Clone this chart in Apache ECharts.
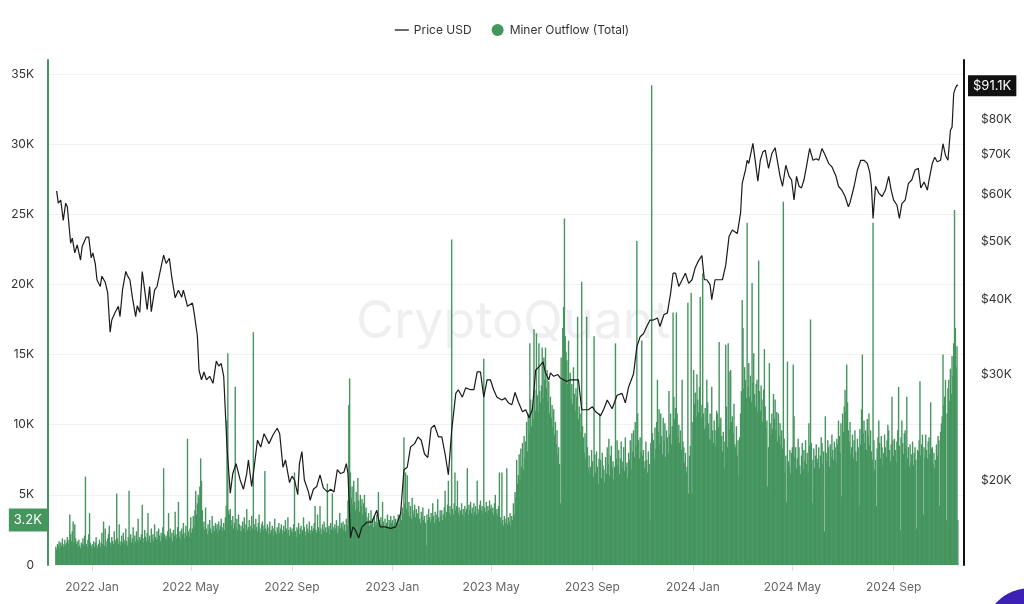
<!DOCTYPE html>
<html><head><meta charset="utf-8">
<script src="https://cdn.jsdelivr.net/npm/echarts@6/dist/echarts.min.js"></script>
<style>html,body{margin:0;padding:0;background:#fff}#c{width:1024px;height:604px}</style>
</head><body><div id="c"></div>
<script>
// ---------- data (outflow in thousand BTC, price in thousand USD) ----------
const axisStart = '2021-11-09';
const axisEnd = '2024-11-25';
const monthNames = ['Jan','Feb','Mar','Apr','May','Jun','Jul','Aug','Sep','Oct','Nov','Dec'];
const outflowTicksK = [0,5,10,15,20,25,30,35];
const priceTicksK = [20,30,40,50,60,70,80];

// daily Miner Outflow (Total), starts 2021-11-18
const outflow2021 = [
1.3,1.1,1.5,1.4,1.7,1.2,1.6,1.4,1.9,1.3,1.5,1.8,1.4,
1.6,2.0,1.5,1.8,3.6,2.2,1.7,2.4,3.1,1.6,2.9,1.9,1.5,1.7,1.3,1.8,1.4,1.2,1.6,1.5,1.9,1.4,2.1,6.3,1.5,1.3,1.8,2.2,3.7,1.6,1.4];
// starts 2022-01-01
const outflow2022 = [
1.2,1.5,1.7,1.3,1.6,2.0,1.4,1.2,1.5,1.8,1.3,1.6,2.3,1.5,3.1,1.4,2.6,1.7,1.3,1.9,2.2,2.8,1.6,1.4,2.0,1.7,1.5,2.4,1.6,1.8,5.1,
1.9,1.5,2.9,1.7,1.4,2.1,1.6,2.3,1.8,1.5,2.6,1.7,1.4,2.0,5.3,1.8,2.2,1.6,1.9,2.7,1.5,2.1,1.7,2.4,1.8,3.3,1.6,2.0,
1.8,2.2,4.3,1.9,1.6,2.5,2.0,1.7,2.3,3.7,1.8,2.1,1.6,2.6,1.9,2.2,1.7,2.9,2.0,1.8,2.4,1.9,2.6,2.1,1.7,2.3,2.0,2.7,6.9,2.2,1.9,
2.1,1.8,2.4,3.7,2.0,2.6,1.9,2.3,1.7,2.5,2.1,3.8,2.2,1.9,2.7,4.5,2.0,2.4,1.8,2.6,2.2,3.0,1.9,2.3,2.8,2.1,9.0,2.4,2.0,2.6,
3.4,2.3,2.6,3.5,2.8,3.9,5.3,3.6,4.4,5.0,4.8,5.6,7.6,6.0,3.9,2.7,3.1,2.5,4.1,2.6,2.2,2.9,2.4,3.2,2.6,2.3,3.5,2.5,2.8,2.4,3.0,
2.6,2.9,2.3,3.1,2.5,2.8,3.3,2.4,2.7,3.0,2.5,3.4,4.2,10.3,15.1,3.9,3.6,4.0,3.2,2.8,3.5,2.6,3.0,12.7,2.7,3.3,2.5,3.6,2.9,2.4,
2.8,2.4,3.1,2.6,3.4,2.3,2.9,4.0,2.5,2.7,3.2,2.4,2.8,3.5,2.6,16.6,2.9,2.5,3.3,2.7,2.4,3.0,3.6,2.6,2.3,2.9,3.1,2.5,2.8,6.7,2.6,
2.4,2.9,2.2,2.7,3.1,2.3,2.5,2.8,2.1,2.6,3.3,2.4,2.2,2.7,2.5,3.0,2.3,2.6,2.9,2.2,2.5,2.8,2.4,3.2,2.6,2.3,3.4,2.5,2.1,2.7,2.4,
2.6,2.3,2.9,6.6,2.4,2.0,2.7,2.5,3.0,2.2,2.6,2.8,2.3,2.5,3.4,2.7,2.1,2.4,2.9,2.6,2.3,3.1,2.5,2.2,2.8,2.4,2.6,3.0,4.2,2.5,
2.3,3.6,2.7,2.4,4.2,2.6,2.2,2.9,2.5,3.1,2.4,2.7,2.3,5.8,2.6,2.8,2.2,3.0,2.5,5.1,2.7,2.4,2.9,2.6,3.2,2.3,2.8,2.5,3.7,2.6,3.0,
2.7,3.1,2.5,2.9,2.4,3.3,2.8,4.6,11.4,13.3,6.6,4.8,5.6,4.3,6.0,4.5,3.9,5.2,4.1,6.2,4.6,3.8,5.0,4.2,4.7,3.6,4.4,5.0,3.8,4.1,
3.4,3.0,3.7,2.8,3.2,3.9,2.9,3.3,2.7,3.5,3.1,2.8,3.6,3.0,5.2,3.2,2.7,3.4,2.9,4.5,3.1,2.6,3.3,2.8,3.0,3.6,2.7,3.2,2.9,3.5,3.0];
// starts 2023-01-01
const outflow2023 = [
3.2,2.8,3.5,3.0,3.3,2.7,3.1,3.6,2.9,3.4,3.8,3.2,4.1,3.7,9.1,4.4,6.6,4.0,6.4,3.8,4.5,3.5,4.2,3.3,4.8,3.9,3.6,4.3,3.4,4.0,3.7,
3.6,4.2,3.3,3.0,3.8,3.4,4.1,3.2,3.5,3.0,1.4,3.6,3.2,4.0,3.4,3.1,3.7,3.3,4.4,3.5,3.0,3.8,3.2,3.6,4.7,3.4,3.1,3.9,
3.5,3.9,3.2,3.6,4.1,5.3,3.4,3.8,4.3,6.0,3.7,4.2,3.5,23.2,4.0,3.6,4.4,6.6,3.9,4.2,6.0,3.7,4.1,3.5,3.9,4.4,3.6,4.0,3.4,4.2,3.8,
4.0,6.9,3.6,4.3,3.9,4.5,3.7,4.1,3.5,4.4,3.8,4.2,3.6,6.0,4.0,3.7,4.3,4.6,3.9,4.2,3.6,14.7,4.1,3.8,4.5,3.7,4.2,3.9,4.6,4.0,
4.3,3.8,4.1,3.6,4.4,5.0,3.7,4.0,3.5,4.2,6.6,3.4,3.0,6.6,3.2,2.8,3.5,3.0,3.3,6.9,2.9,3.4,3.1,3.7,2.8,3.5,3.2,4.4,3.6,5.2,4.8,
7.5,5.8,6.4,7.9,6.1,8.3,7.0,8.7,6.8,9.2,7.6,8.8,10.2,8.1,10.8,9.4,15.8,11.8,9.9,11.2,10.4,16.8,12.5,11.0,16.5,12.1,10.9,15.8,12.4,11.6,
12.8,15.5,11.9,14.8,13.2,15.5,12.6,13.9,11.7,13.1,10.8,12.0,10.5,11.4,9.8,11.1,9.3,10.2,8.6,9.6,7.9,8.4,7.2,4.4,14.8,13.0,16.9,18.4,24.7,16.3,15.2,
14.6,12.9,16.0,13.1,13.7,11.8,12.9,11.5,14.1,12.2,11.0,12.6,12.0,17.7,10.4,11.3,10.8,9.5,20.2,9.9,9.1,8.0,9.4,7.6,17.7,8.4,6.9,7.8,6.5,7.0,8.2,
7.4,6.3,16.3,7.9,6.6,8.1,7.0,5.8,7.6,10.8,7.5,6.2,8.0,7.1,6.8,5.9,7.7,6.5,8.4,7.2,9.0,6.4,7.8,8.5,6.9,7.4,6.1,7.0,15.8,7.6,
8.9,7.1,8.2,6.5,7.6,8.8,6.9,7.4,8.4,6.7,9.1,7.0,7.3,6.2,8.0,7.5,8.9,6.8,9.4,8.1,9.6,7.7,10.2,8.5,23.1,10.8,8.9,7.6,9.1,8.0,16.0,
7.8,8.2,6.9,7.4,8.8,7.5,6.6,8.1,7.2,3.2,8.7,34.2,9.4,8.9,7.6,9.8,8.3,10.2,13.2,9.5,11.1,8.6,10.8,9.2,7.9,10.5,8.8,10.1,7.7,9.6,
9.1,8.0,12.4,9.3,10.8,8.6,9.9,18.0,12.0,10.4,11.2,18.0,10.8,9.1,10.0,8.7,9.6,8.2,13.2,8.8,8.4,7.3,8.0,6.6,7.0,18.7,5.1,7.8,8.5,19.4,5.1];
// starts 2024-01-01, ends 2024-11-18
const outflow2024 = [
10.2,13.9,11.5,12.3,10.6,13.6,11.8,10.9,12.7,19.1,11.4,10.5,20.8,10.8,9.7,11.2,9.9,13.2,11.6,10.1,9.0,10.8,8.9,12.7,9.6,8.7,10.3,9.6,8.5,11.0,10.8,
9.8,15.9,10.1,10.5,9.2,8.1,9.5,6.9,8.8,15.7,11.3,8.4,15.8,13.8,9.7,13.9,10.2,10.6,9.4,11.5,8.6,8.4,9.9,7.8,8.9,6.3,9.1,10.8,12.4,
18.9,16.9,12.6,14.1,13.2,11.9,24.4,12.7,14.4,12.0,13.5,11.6,20.1,13.0,15.1,12.2,11.3,12.9,13.2,10.9,21.7,12.4,11.0,12.8,11.8,10.2,12.5,15.4,11.3,9.8,10.3,
5.6,8.4,14.4,10.1,9.3,10.8,9.7,12.2,10.4,11.8,9.6,10.9,8.8,10.8,9.2,10.1,8.6,9.6,8.3,25.9,9.0,6.6,7.8,4.5,14.5,7.4,7.0,8.2,6.5,8.0,
8.4,14.3,10.6,7.7,8.4,6.9,7.6,9.0,8.4,7.1,6.5,7.8,8.7,6.8,8.2,7.4,8.9,7.2,8.0,6.6,10.1,8.5,17.5,8.7,4.4,7.5,8.3,6.9,7.8,8.6,7.3,
7.6,8.4,6.9,7.8,9.1,8.7,7.2,8.1,2.4,10.6,8.0,7.4,8.9,8.4,7.0,8.6,7.7,9.3,8.2,7.5,8.8,8.4,7.3,9.0,8.6,10.3,9.2,8.0,10.1,4.9,
10.8,9.5,11.3,12.5,10.9,14.3,11.6,9.6,8.8,10.2,7.9,8.4,9.3,7.6,8.9,9.6,8.1,7.4,9.0,8.4,4.2,9.7,8.6,11.1,15.0,9.4,10.3,8.7,9.6,8.2,10.4,
9.2,10.8,8.5,9.6,8.1,7.5,24.4,8.9,6.8,7.5,4.2,8.3,9.1,10.3,8.7,7.6,9.2,8.4,7.1,8.0,9.3,8.4,7.7,8.9,10.0,9.6,8.2,7.4,8.6,12.0,8.9,
7.8,9.0,8.2,7.3,8.8,9.6,12.7,8.5,2.5,9.1,10.3,8.7,7.9,9.4,9.6,8.3,12.0,7.6,8.4,7.0,8.6,7.3,7.9,8.8,7.1,8.0,8.4,7.5,2.6,8.2,
8.1,8.9,13.1,7.8,8.6,9.3,3.6,8.4,7.7,9.3,8.2,7.6,8.8,9.1,7.9,11.6,8.3,8.4,7.2,8.0,6.9,7.5,8.6,7.8,9.2,8.9,4.2,9.5,10.1,10.6,15.0,
11.4,12.0,13.2,3.2,10.8,12.6,13.2,11.7,14.0,12.2,14.9,13.5,15.8,25.3,16.9,14.1,15.6,3.2];

// BTC price (thousand USD)
const priceUSD = [
['2021-11-19',60.8],['2021-11-21',58.0],['2021-11-24',58.7],['2021-11-27',54.3],['2021-11-30',58.0],
['2021-12-02',57.2],['2021-12-06',49.7],['2021-12-08',50.7],['2021-12-11',47.9],['2021-12-14',49.4],['2021-12-18',46.6],['2021-12-20',49.1],['2021-12-25',50.9],['2021-12-28',50.9],['2021-12-31',47.0],
['2022-01-02',47.9],['2022-01-05',45.9],['2022-01-07',43.2],['2022-01-11',42.1],['2022-01-13',43.8],['2022-01-17',42.8],['2022-01-20',41.1],['2022-01-23',35.3],['2022-01-25',37.0],['2022-01-29',38.1],
['2022-02-02',39.0],['2022-02-04',37.5],['2022-02-07',41.5],['2022-02-11',44.6],['2022-02-13',43.9],['2022-02-16',43.2],['2022-02-19',40.4],['2022-02-23',37.5],['2022-02-25',39.1],['2022-02-28',38.1],
['2022-03-03',44.6],['2022-03-06',41.5],['2022-03-09',38.5],['2022-03-12',42.1],['2022-03-14',38.2],['2022-03-18',41.5],['2022-03-21',42.1],['2022-03-25',44.8],['2022-03-29',47.5],
['2022-04-01',46.0],['2022-04-05',46.9],['2022-04-08',43.5],['2022-04-12',40.3],['2022-04-16',41.5],['2022-04-20',40.4],['2022-04-22',41.5],['2022-04-27',39.0],
['2022-05-03',39.5],['2022-05-05',38.1],['2022-05-09',34.8],['2022-05-11',30.5],['2022-05-14',29.4],['2022-05-17',30.3],['2022-05-20',29.4],['2022-05-24',29.8],['2022-05-28',29.0],
['2022-06-01',31.6],['2022-06-04',31.0],['2022-06-07',31.3],['2022-06-10',29.8],['2022-06-14',22.7],['2022-06-18',19.0],['2022-06-21',20.5],['2022-06-25',21.3],['2022-06-30',20.0],
['2022-07-04',19.3],['2022-07-08',20.5],['2022-07-10',21.6],['2022-07-14',19.5],['2022-07-17',21.0],['2022-07-21',23.3],['2022-07-25',22.7],['2022-07-29',23.9],
['2022-08-04',23.0],['2022-08-09',23.8],['2022-08-14',24.4],['2022-08-17',23.9],['2022-08-21',21.0],['2022-08-24',21.6],['2022-08-29',19.8],
['2022-09-01',20.3],['2022-09-04',20.0],['2022-09-08',18.9],['2022-09-10',21.3],['2022-09-13',22.3],['2022-09-16',20.0],['2022-09-21',19.1],['2022-09-23',18.5],['2022-09-27',19.3],
['2022-10-01',19.5],['2022-10-05',20.4],['2022-10-09',19.4],['2022-10-14',19.1],['2022-10-18',19.3],['2022-10-22',19.1],['2022-10-26',20.8],['2022-10-30',20.5],
['2022-11-03',20.6],['2022-11-06',21.3],['2022-11-08',20.5],['2022-11-11',16.0],['2022-11-14',16.7],['2022-11-17',16.5],['2022-11-21',16.0],['2022-11-25',16.7],
['2022-12-01',17.0],['2022-12-07',17.0],['2022-12-13',17.8],['2022-12-17',16.7],['2022-12-23',16.7],['2022-12-30',16.6],
['2023-01-05',16.7],['2023-01-11',17.6],['2023-01-15',20.8],['2023-01-19',21.0],['2023-01-23',22.7],['2023-01-28',23.0],
['2023-02-01',23.6],['2023-02-05',23.3],['2023-02-09',22.1],['2023-02-13',21.8],['2023-02-17',24.4],['2023-02-21',24.7],['2023-02-26',23.6],
['2023-03-02',23.6],['2023-03-06',22.1],['2023-03-10',20.4],['2023-03-14',24.2],['2023-03-19',27.9],['2023-03-22',28.3],['2023-03-27',27.5],['2023-03-31',28.5],
['2023-04-06',28.3],['2023-04-10',28.3],['2023-04-14',30.3],['2023-04-18',30.3],['2023-04-22',27.5],['2023-04-26',29.4],['2023-04-30',29.4],
['2023-05-04',28.3],['2023-05-08',27.5],['2023-05-14',27.2],['2023-05-18',27.4],['2023-05-22',26.9],['2023-05-26',26.7],['2023-05-30',28.0],
['2023-06-03',27.0],['2023-06-08',26.0],['2023-06-12',26.2],['2023-06-16',25.4],['2023-06-20',26.2],['2023-06-24',30.5],['2023-06-28',30.9],
['2023-07-03',31.5],['2023-07-06',30.2],['2023-07-10',29.4],['2023-07-12',30.2],['2023-07-16',29.8],['2023-07-21',30.0],['2023-07-24',29.6],['2023-07-28',29.4],
['2023-08-01',29.2],['2023-08-05',29.4],['2023-08-11',29.4],['2023-08-15',29.4],['2023-08-19',26.2],['2023-08-23',26.2],['2023-08-27',26.2],
['2023-09-01',26.5],['2023-09-05',26.0],['2023-09-11',25.6],['2023-09-15',26.3],['2023-09-19',27.2],['2023-09-25',26.3],
['2023-10-01',27.7],['2023-10-07',27.9],['2023-10-11',26.9],['2023-10-15',28.6],['2023-10-21',30.1],['2023-10-25',33.4],['2023-10-29',34.7],
['2023-11-02',35.1],['2023-11-06',36.1],['2023-11-10',37.0],['2023-11-14',37.0],['2023-11-19',37.3],['2023-11-22',36.1],['2023-11-27',37.8],
['2023-12-01',38.0],['2023-12-05',41.0],['2023-12-08',44.3],['2023-12-11',44.3],['2023-12-15',42.1],['2023-12-19',43.2],['2023-12-23',44.3],['2023-12-27',42.6],['2023-12-31',43.2],
['2024-01-04',45.3],['2024-01-08',46.5],['2024-01-12',47.4],['2024-01-15',43.2],['2024-01-18',43.2],['2024-01-22',42.4],['2024-01-24',40.0],['2024-01-28',43.2],
['2024-02-01',43.2],['2024-02-06',43.2],['2024-02-10',45.7],['2024-02-14',51.0],['2024-02-18',52.3],['2024-02-24',51.6],['2024-02-28',55.8],
['2024-03-01',62.6],['2024-03-05',65.9],['2024-03-07',68.4],['2024-03-09',67.6],['2024-03-14',73.0],['2024-03-17',68.0],['2024-03-20',63.1],['2024-03-23',68.4],['2024-03-26',70.6],['2024-03-29',71.1],
['2024-04-02',66.3],['2024-04-06',70.2],['2024-04-10',71.8],['2024-04-14',66.7],['2024-04-16',64.3],['2024-04-19',61.9],['2024-04-23',67.1],['2024-04-27',64.3],['2024-04-30',63.4],
['2024-05-03',58.7],['2024-05-06',64.3],['2024-05-09',61.9],['2024-05-12',61.5],['2024-05-15',63.4],['2024-05-18',66.7],['2024-05-22',71.6],['2024-05-26',68.4],['2024-05-30',68.8],
['2024-06-02',68.4],['2024-06-06',71.6],['2024-06-10',69.7],['2024-06-14',67.6],['2024-06-18',66.7],['2024-06-23',64.3],['2024-06-26',61.9],['2024-06-30',61.0],
['2024-07-04',59.5],['2024-07-08',57.2],['2024-07-10',58.1],['2024-07-15',61.9],['2024-07-19',65.9],['2024-07-23',68.4],['2024-07-27',68.4],['2024-07-31',67.6],
['2024-08-03',65.3],['2024-08-05',61.9],['2024-08-07',54.7],['2024-08-10',61.9],['2024-08-14',60.3],['2024-08-18',59.5],['2024-08-22',61.0],['2024-08-26',64.3],['2024-08-29',61.0],
['2024-09-01',58.7],['2024-09-05',57.6],['2024-09-08',54.7],['2024-09-11',57.9],['2024-09-15',58.7],['2024-09-19',62.6],['2024-09-23',63.4],['2024-09-27',65.9],
['2024-10-01',66.3],['2024-10-04',61.5],['2024-10-08',62.9],['2024-10-12',61.0],['2024-10-14',63.4],['2024-10-18',67.6],['2024-10-21',69.2],['2024-10-24',68.0],['2024-10-28',68.4],['2024-10-31',72.9],
['2024-11-03',69.7],['2024-11-06',68.4],['2024-11-09',76.8],['2024-11-11',77.7],['2024-11-13',88.5],['2024-11-15',90.2],['2024-11-17',91.4],['2024-11-18',91.1]];

// ---------- build library inputs ----------
const categories = [];
for (let t = Date.parse(axisStart + 'T00:00:00Z'); t <= Date.parse(axisEnd + 'T00:00:00Z'); t += 86400000) {
  categories.push(new Date(t).toISOString().slice(0, 10));
}
const catIndex = {};
categories.forEach((c, i) => { catIndex[c] = i; });
const outflowData = new Array(categories.length).fill(null);
function place(startDate, arr) {
  const s = catIndex[startDate];
  arr.forEach((v, k) => { if (s + k < outflowData.length) outflowData[s + k] = v; });
}
place('2021-11-18', outflow2021);
place('2022-01-01', outflow2022);
place('2023-01-01', outflow2023);
place('2024-01-01', outflow2024);
const priceData = new Array(categories.length).fill(null);
priceUSD.forEach(([d, v]) => { if (catIndex[d] !== undefined) priceData[catIndex[d]] = v; });
const lastOutflow = outflow2024[outflow2024.length - 1];
const lastPrice = priceUSD[priceUSD.length - 1][1];

const GREEN = '#45955f';
const isTickDay = (i, v) => /-(01|05|09)-01$/.test(v);

const chart = echarts.init(document.getElementById('c'), null, { renderer: 'canvas' });
chart.setOption({
  animation: false,
  backgroundColor: '#ffffff',
  textStyle: { fontFamily: 'Inter, Roboto, sans-serif' },
  legend: {
    top: 19, left: 'center', itemGap: 20, itemWidth: 14, itemHeight: 12,
    textStyle: { color: '#333', fontSize: 12 },
    data: [
      { name: 'Price USD', icon: 'path://M0,0H14V1.3H0Z', itemStyle: { color: '#1a1a1a' } },
      { name: 'Miner Outflow (Total)', icon: 'circle' }
    ]
  },
  grid: { left: 48, right: 60, top: 60, bottom: 39, containLabel: false },
  xAxis: {
    type: 'category', data: categories, boundaryGap: true,
    axisLine: { show: false },
    axisTick: { show: true, interval: isTickDay, alignWithLabel: true, length: 6, lineStyle: { color: '#dddddd' } },
    axisLabel: {
      interval: isTickDay, color: '#666', fontSize: 12, margin: 16,
      formatter: v => v.slice(0, 4) + ' ' + monthNames[parseInt(v.slice(5, 7), 10) - 1]
    },
    splitLine: { show: false }
  },
  yAxis: [
    {
      type: 'value', position: 'left', min: 0, max: 36, interval: 5,
      axisLine: { show: true, lineStyle: { color: GREEN, width: 2 } },
      axisTick: { show: false },
      splitLine: { show: true, showMaxLine: false, lineStyle: { color: '#f1f1f1' } },
      axisLabel: {
        color: '#333', fontSize: 12, margin: 14,
        customValues: outflowTicksK,
        formatter: v => (v === 0 ? '0' : v + 'K')
      }
    },
    {
      type: 'log', logBase: 10, position: 'right', min: 14.42, max: 100.6,
      axisLine: { show: true, lineStyle: { color: '#111', width: 2 } },
      axisTick: { show: false },
      splitLine: { show: false },
      axisLabel: {
        color: '#333', fontSize: 12, margin: 17,
        customValues: priceTicksK,
        formatter: v => '$' + Math.round(v) + 'K'
      }
    }
  ],
  graphic: [
    { type: 'text', left: 356, top: 296, z: 0, silent: true,
      style: { text: 'CryptoQuant', font: '52px Inter, Roboto, sans-serif', fill: '#efeff2' } },
    { type: 'circle', z: 100, silent: true, shape: { cx: 1030, cy: 634, r: 46 }, style: { fill: '#3d20b6' } }
  ],
  series: [
    {
      name: 'Miner Outflow (Total)', type: 'bar', yAxisIndex: 0, data: outflowData,
      barWidth: 1.4, itemStyle: { color: GREEN }, z: 2,
      emphasis: { disabled: true },
      markLine: {
        silent: true, symbol: ['none', 'none'],
        lineStyle: { color: 'transparent', width: 0 },
        label: {
          show: true, position: 'start', distance: 1, formatter: lastOutflow + 'K',
          backgroundColor: GREEN, color: '#fff', fontSize: 13, padding: [5, 5]
        },
        data: [{ yAxis: lastOutflow }]
      }
    },
    {
      name: 'Price USD', type: 'line', yAxisIndex: 1, data: priceData, connectNulls: true,
      symbol: 'none', showSymbol: false, z: 3,
      lineStyle: { color: '#1a1a1a', width: 1.2 }, itemStyle: { color: '#1a1a1a' },
      emphasis: { disabled: true },
      markLine: {
        silent: true, symbol: ['none', 'none'],
        lineStyle: { color: 'transparent', width: 0 },
        label: {
          show: true, position: 'end', distance: 4, formatter: '$' + lastPrice + 'K',
          backgroundColor: '#111', color: '#fff', fontSize: 13, padding: [4, 5]
        },
        data: [{ yAxis: lastPrice }]
      }
    }
  ]
});
</script>
</body></html>
